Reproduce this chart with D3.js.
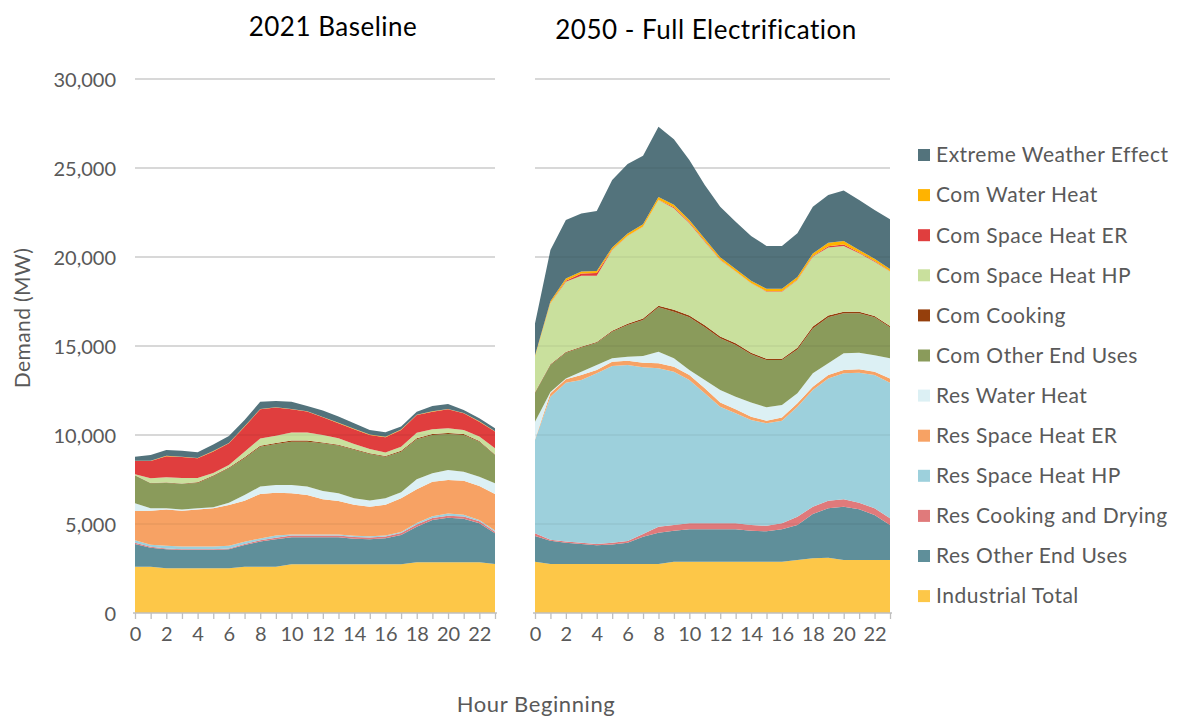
<!DOCTYPE html>
<html>
<head>
<meta charset="utf-8">
<script src="https://cdn.jsdelivr.net/npm/d3@7/dist/d3.min.js"></script>
<style>
  body { margin: 0; background: #fff; }
  text { font-family: Lato, "Open Sans", sans-serif; }
</style>
</head>
<body>
<svg id="chart"></svg>
<script>
// ---- data (MW, hour beginning 0..23) ----
const hours = [0,1,2,3,4,5,6,7,8,9,10,11,12,13,14,15,16,17,18,19,20,21,22,23];
const xTickLabels = [0,2,4,6,8,10,12,14,16,18,20,22];
const yTicks = [0,5000,10000,15000,20000,25000,30000];

const seriesKeys = ['ind','resOther','resCook','resHP','resER','resWater','comOther','comCook','comHP','comER','comWater','extreme'];
const seriesNames = ['Industrial Total','Res Other End Uses','Res Cooking and Drying','Res Space Heat HP','Res Space Heat ER','Res Water Heat','Com Other End Uses','Com Cooking','Com Space Heat HP','Com Space Heat ER','Com Water Heat','Extreme Weather Effect'];
const seriesColors = ['#fdc748','#5f8f9a','#e07a7b','#9dd0dc','#f7a264','#dcf0f4','#8a9b5b','#953f0c','#c9e09d','#e03e3e','#ffb300','#53737c'];

// 2021 Baseline
const ind2021      = [2600,2600,2510,2510,2510,2510,2510,2600,2600,2600,2735,2735,2735,2735,2735,2735,2735,2735,2850,2850,2850,2850,2850,2750];
const resOther2021 = [1280,1070,1070,1030,1030,1030,1070,1220,1410,1540,1520,1520,1520,1520,1440,1410,1460,1650,2000,2370,2500,2450,2190,1730];
const resCook2021  = [60,50,40,40,40,40,40,60,80,90,100,100,100,100,100,100,100,110,120,120,120,120,110,90];
const resHP2021    = [150,120,160,160,160,160,160,120,100,130,60,60,60,60,60,60,60,60,80,100,120,100,80,60];
const resER2021    = [1640,1910,2040,2010,2080,2140,2290,2310,2500,2400,2310,2220,1980,1880,1740,1670,1720,1890,1900,1940,1880,1910,1900,2060];
const resWater2021 = [430,130,60,60,60,60,130,320,410,430,470,470,460,430,370,340,370,340,560,470,560,510,530,600];
const comOther2021 = [1560,1410,1430,1450,1430,1740,1930,2060,2240,2300,2430,2520,2680,2680,2720,2620,2340,2280,2250,2150,2030,2060,1960,1590];
const comCook2021  = [20,20,20,20,30,40,50,60,60,60,60,60,50,50,50,40,40,50,60,60,50,50,40,30];
const comHP2021    = [50,260,300,300,250,150,130,310,410,410,450,450,420,360,280,240,190,230,310,260,270,230,250,340];
const comER2021    = [750,970,1180,1180,1100,1210,1220,1410,1630,1580,1310,1180,990,850,830,790,860,940,990,990,1060,940,840,940];
const comWater2021 = [20,20,20,20,20,20,20,20,20,20,20,20,20,20,20,20,20,20,20,20,20,20,20,20];
const extreme2021  = [220,320,330,330,320,360,390,350,410,350,410,300,360,350,320,260,260,170,170,300,280,160,170,170];

// 2050 Full Electrification
const ind2050      = [2880,2750,2750,2750,2750,2750,2750,2750,2750,2880,2880,2880,2880,2880,2880,2880,2880,2980,3070,3100,2980,2980,2980,2980];
const resOther2050 = [1450,1310,1200,1130,1050,1100,1200,1540,1760,1740,1820,1820,1820,1820,1740,1710,1820,1960,2490,2780,2990,2850,2530,1960];
const resCook2050  = [150,60,60,70,80,100,100,150,340,320,340,340,340,340,320,310,340,470,410,430,420,370,370,380];
const resHP2050    = [5240,8030,8930,9140,9590,9930,9880,9360,8900,8620,8050,7300,6550,6180,5900,5760,5760,6180,6560,6870,7080,7300,7490,7620];
const resER2050    = [30,190,190,280,180,240,240,260,280,280,280,280,230,220,190,140,190,190,180,190,180,190,190,240];
const resWater2050 = [1000,80,50,190,280,190,230,380,650,470,280,470,710,710,790,760,700,560,760,660,940,930,920,1130];
const comOther2050 = [1610,1510,1440,1360,1250,1490,1780,2020,2490,2620,2960,2960,2900,2910,2710,2650,2520,2470,2520,2580,2250,2220,2130,1740];
const comCook2050  = [40,40,40,40,50,60,70,80,90,100,110,110,100,90,90,80,80,90,100,100,90,90,80,70];
const comHP2050    = [2000,3430,3950,3990,3720,4530,4930,5160,5940,5710,5170,4700,4300,4030,3900,3760,3760,3810,3930,3830,3690,3280,3050,3060];
const comER2050    = [0,20,60,120,150,30,20,20,20,60,60,40,30,20,20,20,20,20,30,60,80,40,30,20];
const comWater2050 = [60,100,120,120,120,120,120,120,150,140,130,120,120,120,120,140,140,140,150,200,200,150,130,120];
const extreme2050  = [1810,2870,3290,3260,3360,3790,3900,3850,3950,3670,3370,3020,2850,2660,2520,2410,2410,2460,2630,2680,2830,2800,2740,2800];

const panels = [
  { title: '2021 Baseline', x0: 135, x1: 495, titleX: 333, titleY: 36,
    series: [ind2021,resOther2021,resCook2021,resHP2021,resER2021,resWater2021,comOther2021,comCook2021,comHP2021,comER2021,comWater2021,extreme2021] },
  { title: '2050 - Full Electrification', x0: 535, x1: 890, titleX: 706, titleY: 39,
    series: [ind2050,resOther2050,resCook2050,resHP2050,resER2050,resWater2050,comOther2050,comCook2050,comHP2050,comER2050,comWater2050,extreme2050] }
];

// ---- drawing ----
const width = 1177, height = 721;
const svg = d3.select('#chart').attr('width', width).attr('height', height);

const yScale = d3.scaleLinear().domain([0, 30000]).range([613, 79]);
const textColor = '#595959';

// y axis labels
const yAxis = d3.axisLeft(yScale).tickValues(yTicks).tickSize(0).tickPadding(0)
  .tickFormat(d3.format(','));
svg.append('g')
  .attr('transform', 'translate(116,0)')
  .call(yAxis)
  .call(g => g.select('.domain').remove())
  .call(g => g.selectAll('text')
    .attr('fill', textColor)
    .style('font-size', '20px')
    .attr('dy', '0.35em'));

svg.append('text')
  .attr('transform', 'translate(30,318) rotate(-90)')
  .attr('text-anchor', 'middle')
  .attr('fill', textColor)
  .style('font-size', '21px')
  .style('letter-spacing', '0.4px')
  .text('Demand (MW)');

panels.forEach(p => {
  const xScale = d3.scaleLinear().domain([0, 23]).range([p.x0, p.x1]);

  const rows = hours.map((h, i) => {
    const r = { hour: h };
    seriesKeys.forEach((k, j) => r[k] = p.series[j][i]);
    return r;
  });
  const stacked = d3.stack().keys(seriesKeys)(rows);

  const g = svg.append('g');

  // gridlines (behind)
  g.selectAll('.grid')
    .data(yTicks.slice(1))
    .join('line')
    .attr('class', 'grid')
    .attr('x1', p.x0).attr('x2', p.x1)
    .attr('y1', d => yScale(d)).attr('y2', d => yScale(d))
    .attr('stroke', '#d9d9d9')
    .attr('stroke-width', 1.5);

  const area = d3.area()
    .x(d => xScale(d.data.hour))
    .y0(d => yScale(d[0]))
    .y1(d => yScale(d[1]));

  g.selectAll('.layer')
    .data(stacked)
    .join('path')
    .attr('class', 'layer')
    .attr('fill', (d, i) => seriesColors[i])
    .attr('d', area);

  // faint gridlines showing through the areas
  g.selectAll('.grid-over')
    .data(yTicks.slice(1))
    .join('line')
    .attr('class', 'grid-over')
    .attr('x1', p.x0).attr('x2', p.x1)
    .attr('y1', d => yScale(d)).attr('y2', d => yScale(d))
    .attr('stroke', '#000')
    .attr('stroke-opacity', 0.06)
    .attr('stroke-width', 1.5);

  // x axis
  const xAxis = d3.axisBottom(xScale)
    .tickValues(hours)
    .tickSize(6)
    .tickPadding(8)
    .tickFormat(d => xTickLabels.includes(d) ? d : '');
  svg.append('g')
    .attr('transform', 'translate(0,613)')
    .call(xAxis)
    .call(g => g.select('.domain').attr('stroke', '#bfbfbf').attr('stroke-width', 1.5)
      .attr('d', `M${p.x0 - 2},0H${p.x1 + 2}`))
    .call(g => g.selectAll('.tick line').attr('stroke', '#bfbfbf').attr('stroke-width', 1.3))
    .call(g => g.selectAll('.tick text').attr('fill', textColor).style('font-size', '20px'));

  // title
  svg.append('text')
    .attr('x', p.titleX)
    .attr('y', p.titleY)
    .attr('text-anchor', 'middle')
    .attr('fill', '#000')
    .style('font-size', '26px')
    .style('letter-spacing', '0.5px')
    .text(p.title);
});

svg.append('text')
  .attr('x', 536)
  .attr('y', 712)
  .attr('text-anchor', 'middle')
  .attr('fill', textColor)
  .style('font-size', '22px')
  .style('letter-spacing', '0.6px')
  .text('Hour Beginning');

// legend (reverse stack order)
const legendOrder = d3.range(seriesKeys.length).reverse();
const legend = svg.append('g')
  .selectAll('g')
  .data(legendOrder)
  .join('g')
  .attr('transform', (d, i) => `translate(918,${155 + i * 40.1})`);

legend.append('rect')
  .attr('x', 0).attr('y', -6)
  .attr('width', 12).attr('height', 12)
  .attr('fill', d => seriesColors[d]);

legend.append('text')
  .attr('x', 18)
  .attr('dy', '0.35em')
  .attr('fill', textColor)
  .style('font-size', '21px')
  .style('letter-spacing', '0.5px')
  .text(d => seriesNames[d]);
</script>
</body>
</html>
